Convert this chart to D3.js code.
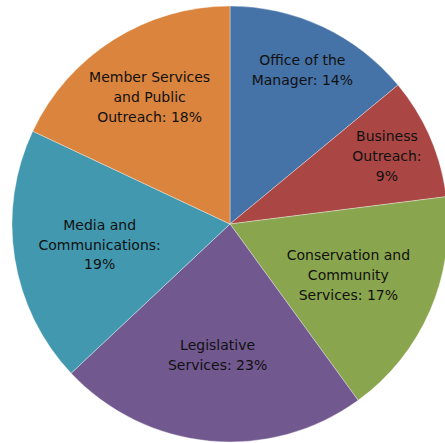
<!DOCTYPE html>
<html><head><meta charset="utf-8">
<script src="https://cdn.jsdelivr.net/npm/d3@7"></script>
<style>body{margin:0;background:#fff}svg{display:block}</style>
</head><body>
<svg id="c" width="445" height="443"></svg>
<script>
const categories = ["Office of the Manager","Business Outreach","Conservation and Community Services","Legislative Services","Media and Communications","Member Services and Public Outreach"];
const values = [14, 9, 17, 23, 19, 18];
const labelLines = [
  ["Office of the","Manager: 14%"],
  ["Business","Outreach:","9%"],
  ["Conservation and","Community","Services: 17%"],
  ["Legislative","Services: 23%"],
  ["Media and","Communications:","19%"],
  ["Member Services","and Public","Outreach: 18%"]
];
const colors = ["#4572A7","#AA4643","#89A54E","#71588F","#4198AF","#DB843D"];
const labelR = [170, 171, 129, 132, 132, 150];

const cx = 230, cy = 224, R = 218;
const svg = d3.select("#c");
const g = svg.append("g").attr("transform", `translate(${cx},${cy})`);
const pie = d3.pie().sort(null).value(d => d)(values);
const arc = d3.arc().innerRadius(0).outerRadius(R);
g.selectAll("path").data(pie).join("path")
  .attr("d", arc)
  .attr("fill", (d,i) => colors[i])
  .attr("stroke", "#ffffff").attr("stroke-width", 0.6).attr("stroke-opacity", 0.6);
const lh = 19.8;
pie.forEach((d,i) => {
  const c = d3.arc().innerRadius(labelR[i]).outerRadius(labelR[i]).centroid(d);
  const lines = labelLines[i];
  const t = g.append("text").attr("text-anchor","middle")
    .attr("font-family","DejaVu Sans, Verdana, sans-serif").attr("font-size", 14).attr("fill","#111");
  lines.forEach((ln, j) => {
    t.append("tspan").attr("x", c[0]).attr("y", c[1] + (j - (lines.length-1)/2) * lh).attr("dy","0.35em").text(ln);
  });
});
</script>
</body></html>
